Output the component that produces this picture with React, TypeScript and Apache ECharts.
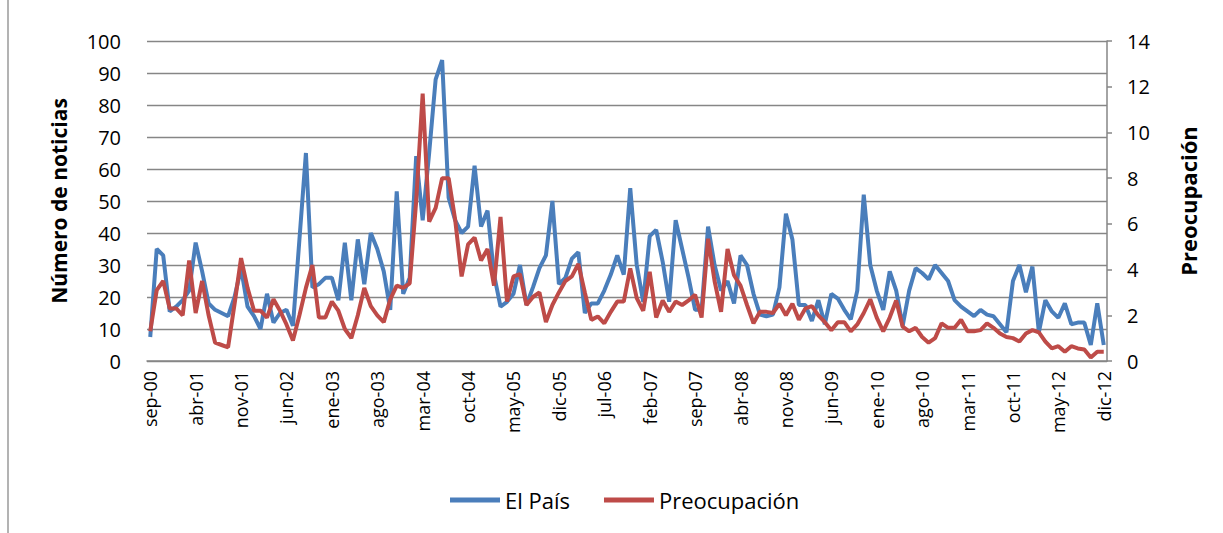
import React, { useEffect, useRef } from "react";
import * as echarts from "echarts";

const monthNames = ["ene", "feb", "mar", "abr", "may", "jun", "jul", "ago", "sep", "oct", "nov", "dic"];
const startMonth = 8; // sep
const startYear = 2000;
const monthCount = 148;

const categories: string[] = [];
for (let i = 0; i < monthCount; i++) {
  const m = (startMonth + i) % 12;
  const y = startYear + Math.floor((startMonth + i) / 12);
  categories.push(monthNames[m] + "-" + String(y % 100).padStart(2, "0"));
}

const elPais = [
  7.5, 35, 33, 15.5, 17, 19, 22, 37, 28, 18, 16, 15, 14, 20, 29, 17, 14, 10, 21, 12,
  15, 16, 11, 38, 65, 23, 24, 26, 26, 19, 37, 19, 38, 24, 40, 35, 28, 16, 53, 21,
  26, 64, 44, 65, 88, 94, 51, 44, 40, 42, 61, 42, 47, 27, 17, 18.5, 21, 30, 17.5, 23,
  29, 33, 50, 24, 26, 32, 34, 15, 18, 18, 22, 27, 33, 27, 54, 30, 18.5, 39, 41, 31,
  18.5, 44, 35, 26, 16, 16, 42, 30, 22, 25, 18, 33, 30, 21, 14.5, 14, 14.5, 23, 46, 38,
  17.5, 17.5, 12.5, 19, 11.5, 21, 19.5, 16, 13, 22, 52, 30, 22, 16, 28, 22, 11, 22, 29, 27.5,
  25.5, 30, 27.5, 25, 19, 17, 15.5, 14, 16, 14.5, 14, 11.5, 9, 25, 30, 21.5, 29.5, 9, 19, 15.5,
  13.5, 18, 11.5, 12, 12, 5, 18, 5,
];

const preocupacion = [
  1.3, 3.1, 3.5, 2.3, 2.3, 2.0, 4.4, 2.1, 3.5, 2.0, 0.8, 0.7, 0.6, 2.5, 4.5, 3.2, 2.2, 2.2, 1.9, 2.7,
  2.2, 1.6, 0.9, 2.0, 3.2, 4.2, 1.9, 1.9, 2.6, 2.2, 1.4, 1.0, 2.0, 3.2, 2.4, 2.0, 1.7, 2.7, 3.3, 3.2,
  3.4, 7.0, 11.7, 6.1, 6.7, 8.0, 8.0, 6.2, 3.7, 5.1, 5.4, 4.4, 4.9, 3.3, 6.3, 2.6, 3.7, 3.8, 2.45, 2.8,
  3.0, 1.7, 2.45, 3.0, 3.5, 3.7, 4.25, 3.0, 1.8, 1.95, 1.65, 2.15, 2.6, 2.6, 4.05, 2.75, 2.2, 3.9, 1.9, 2.65,
  2.15, 2.6, 2.45, 2.65, 2.9, 1.9, 5.35, 3.5, 2.15, 4.9, 3.75, 3.3, 2.45, 1.65, 2.15, 2.15, 2.1, 2.5, 2.0, 2.5,
  1.8, 2.3, 2.4, 2.0, 1.7, 1.35, 1.7, 1.7, 1.3, 1.6, 2.1, 2.7, 1.9, 1.3, 1.9, 2.65, 1.5, 1.3, 1.45, 1.05,
  0.8, 1.0, 1.65, 1.45, 1.45, 1.8, 1.3, 1.3, 1.35, 1.65, 1.45, 1.2, 1.05, 1.0, 0.85, 1.2, 1.35, 1.25, 0.85, 0.55,
  0.65, 0.4, 0.65, 0.55, 0.5, 0.15, 0.4, 0.4,
];

const FONT = "'Open Sans', 'Noto Sans', sans-serif";

export default function App() {
  const ref = useRef<HTMLDivElement>(null);
  useEffect(() => {
    document.body.style.margin = "0";
    const chart = echarts.init(ref.current!, undefined, { renderer: "svg" });
    chart.setOption({
      animation: false,
      backgroundColor: "#ffffff",
      textStyle: { fontFamily: FONT },
      grid: { left: 147, right: 116, top: 41, bottom: 172 },
      legend: {
        bottom: 17,
        left: 445,
        itemWidth: 50,
        itemHeight: 5,
        itemGap: 34,
        icon: "rect",
        textStyle: { fontSize: 22, color: "#000", fontFamily: FONT },
        data: ["El País", "Preocupación"],
      },
      xAxis: {
        type: "category",
        data: categories,
        boundaryGap: true,
        axisLine: { show: true, lineStyle: { color: "#868686", width: 1.5 } },
        axisTick: { show: false },
        axisLabel: {
          interval: 6,
          rotate: 90,
          fontSize: 18,
          color: "#000",
          margin: 10,
          fontFamily: FONT,
        },
        splitLine: { show: false },
      },
      yAxis: [
        {
          type: "value",
          min: 0,
          max: 100,
          interval: 10,
          name: "Número de noticias",
          nameLocation: "middle",
          nameRotate: 90,
          nameGap: 78,
          nameTextStyle: { fontSize: 21, fontWeight: "bold", color: "#000", fontFamily: FONT },
          axisLine: { show: false },
          axisTick: { show: false },
          axisLabel: { fontSize: 20, color: "#000", margin: 26, fontFamily: FONT },
          splitLine: { show: true, lineStyle: { color: "#868686", width: 1.3 } },
        },
        {
          type: "value",
          min: 0,
          max: 14,
          interval: 2,
          position: "right",
          name: "Preocupación",
          nameLocation: "middle",
          nameRotate: 90,
          nameGap: 70,
          nameTextStyle: { fontSize: 22, fontWeight: "bold", color: "#000", fontFamily: FONT },
          axisLine: { show: true, lineStyle: { color: "#868686", width: 1.5 } },
          axisTick: { show: true, length: 5, lineStyle: { color: "#868686", width: 1.5 } },
          axisLabel: { fontSize: 20, color: "#000", margin: 20, fontFamily: FONT },
          splitLine: { show: false },
        },
      ],
      series: [
        {
          name: "El País",
          type: "line",
          yAxisIndex: 0,
          data: elPais,
          symbol: "none",
          color: "#4A7EBB",
          lineStyle: { width: 4, color: "#4A7EBB" },
        },
        {
          name: "Preocupación",
          type: "line",
          yAxisIndex: 1,
          data: preocupacion,
          symbol: "none",
          color: "#BE4B48",
          lineStyle: { width: 4, color: "#BE4B48" },
        },
      ],
      graphic: [
        {
          type: "line",
          shape: { x1: 8, y1: 0, x2: 8, y2: 533 },
          style: { stroke: "#9a9a9a", lineWidth: 1.5 },
        },
      ],
    });
    return () => chart.dispose();
  }, []);
  return (
    <div
      ref={ref}
      style={{ position: "absolute", left: 0, top: 0, width: 1223, height: 533 }}
    />
  );
}
